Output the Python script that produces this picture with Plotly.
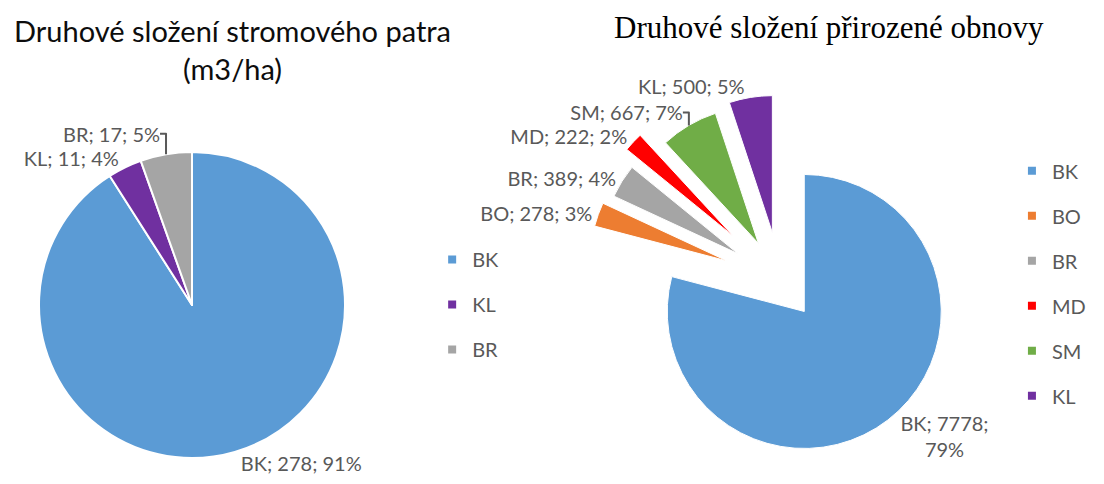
import plotly.graph_objects as go

# stromové patro (m3/ha)
strom_druhy = ["BK", "KL", "BR"]
strom_hodnoty = [278, 11, 16.6]
strom_barvy = ["#5B9BD5", "#7030A0", "#A5A5A5"]

# přirozená obnova
obnova_druhy = ["BK", "BO", "BR", "MD", "SM", "KL"]
obnova_hodnoty = [7778, 278, 389, 222, 667, 500]
obnova_barvy = ["#5B9BD5", "#ED7D31", "#A5A5A5", "#FF0000", "#70AD47", "#7030A0"]
obnova_pull = [0.29, 0.41, 0.36, 0.47, 0.31, 0.35]

W, H = 1096, 476  # stránka má okraj 8 px
label_font = dict(family="Lato, Carlito, sans-serif", size=20, color="#595959")

fig = go.Figure()

fig.add_trace(go.Pie(
    labels=strom_druhy, values=strom_hodnoty, sort=False, direction="clockwise",
    marker=dict(colors=strom_barvy, line=dict(color="white", width=2)),
    texttemplate="%{label}; %{value:.0f}; %{percent:.0%}",
    textposition="outside", outsidetextfont=label_font, showlegend=False,
    domain=dict(x=[31 / W, 337 / W], y=[26 / H, 332 / H]),
))

fig.add_trace(go.Pie(
    labels=obnova_druhy, values=obnova_hodnoty, sort=False, direction="clockwise",
    marker=dict(colors=obnova_barvy, line=dict(color="white", width=1)),
    pull=obnova_pull,
    texttemplate=["%{label}; %{value};<br>%{percent:.0%}"] + ["%{label}; %{value}; %{percent:.0%}"] * 5,
    textposition="outside", outsidetextfont=label_font, showlegend=False,
    domain=dict(x=[570.6 / W, 973.4 / W], y=[2.6 / H, 405.4 / H]),
))

# legendy
for druh, barva in zip(strom_druhy, strom_barvy):
    fig.add_trace(go.Scatter(x=[None], y=[None], mode="markers", name=druh,
                             marker=dict(symbol="square", size=8, color=barva),
                             legend="legend", legendgroup="s" + druh))
for druh, barva in zip(obnova_druhy, obnova_barvy):
    fig.add_trace(go.Scatter(x=[None], y=[None], mode="markers", name=druh,
                             marker=dict(symbol="square", size=8, color=barva),
                             legend="legend2", legendgroup="o" + druh))

fig.update_layout(
    width=W, height=H,
    margin=dict(l=0, r=0, t=0, b=0, autoexpand=False),
    paper_bgcolor="white", plot_bgcolor="white",
    xaxis=dict(visible=False), yaxis=dict(visible=False),
    legend=dict(x=0.387, y=0.5125, xanchor="left", yanchor="top", font=label_font,
                tracegroupgap=16, bgcolor="rgba(0,0,0,0)"),
    legend2=dict(x=0.916, y=0.699, xanchor="left", yanchor="top", font=label_font,
                 tracegroupgap=16, bgcolor="rgba(0,0,0,0)"),
    annotations=[
        dict(text="Druhové složení stromového patra<br>(m3/ha)", x=224.5 / W, y=1 - 3 / H,
             xref="paper", yref="paper", xanchor="center", yanchor="top", showarrow=False,
             font=dict(family="Lato, Carlito, sans-serif", size=29, color="#0D0D0D")),
        dict(text="Druhové složení přirozené obnovy", x=821 / W, y=1.0,
             xref="paper", yref="paper", xanchor="center", yanchor="top", showarrow=False,
             font=dict(family="Liberation Serif, Times New Roman, serif", size=31, color="#000000")),
    ],
)

fig.write_html("out.html")
